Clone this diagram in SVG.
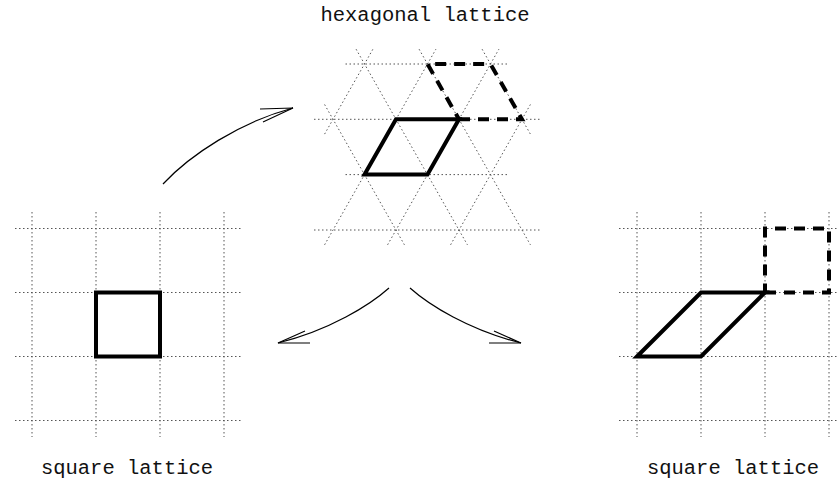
<svg xmlns="http://www.w3.org/2000/svg" width="837" height="485" viewBox="0 0 837 485">
<style>
.grid{stroke:#555;stroke-width:1;stroke-dasharray:1.5 2.5;fill:none}
.cell{stroke:#000;stroke-width:4;fill:none;stroke-linejoin:miter}
.dash{stroke:#000;stroke-width:4;fill:none;stroke-dasharray:11 8;stroke-linejoin:miter}
.arr{stroke:#000;stroke-width:1.2;fill:none}
.lbl{font-family:"Liberation Mono","DejaVu Sans Mono",monospace;font-size:20.5px;fill:#111;text-anchor:middle}
</style>
<rect width="837" height="485" fill="#fff"/>
<g id="square-left">
  <g class="grid">
    <path d="M15,228.5H241M15,292.5H241M15,356.5H241M15,420.5H241"/>
    <path d="M32,212V437M96,212V437M160,212V437M224,212V437"/>
  </g>
  <rect class="cell" x="96" y="292.5" width="64" height="64"/>
  <text class="lbl" x="127" y="474">square lattice</text>
</g>
<g id="hexagonal">
  <g class="grid">
    <path d="M345.5,64H509.5M314,119.3H541M345.5,174.6H509.5M314,230H541"/>
    <path d="M324.6,134.1L372.9,49.2M324.6,244.8L435.9,49.2M387.6,244.8L498.9,49.2M450.6,244.8L530.4,104.5"/>
    <path d="M356.1,49.2L467.4,244.8M419.1,49.2L530.4,244.8M482.1,49.2L530.4,134.1M324.6,104.5L404.4,244.8"/>
  </g>
  <path class="cell" d="M364.5,174.6L396,119.3H459L427.5,174.6Z"/>
  <path class="dash" d="M459,119.3H522L490.5,64H427.5L459,119.3"/>
  <text class="lbl" x="425" y="21">hexagonal lattice</text>
</g>
<g id="square-right">
  <g class="grid">
    <path d="M619,228.5H837M619,292.5H837M619,356.5H837M619,420.5H837"/>
    <path d="M637,212V437M701,212V437M765,212V437M829,212V437"/>
  </g>
  <path class="cell" d="M637,356.5L701,292.5H765L701,356.5Z"/>
  <path class="dash" d="M765,292.5H829V228.5H765V292.5"/>
  <text class="lbl" x="733" y="474">square lattice</text>
</g>
<g id="connectors">
  <path class="arr" d="M163,184C190,155 240,122 293,108"/>
  <path class="arr" d="M260,109L293,108L263,122"/>
  <path class="arr" d="M389,288C370,305 330,330 278,343"/>
  <path class="arr" d="M305,331L278,343L310,343"/>
  <path class="arr" d="M410,288C429,305 469,330 521,343"/>
  <path class="arr" d="M494,331L521,343L489,343"/>
</g>
</svg>
